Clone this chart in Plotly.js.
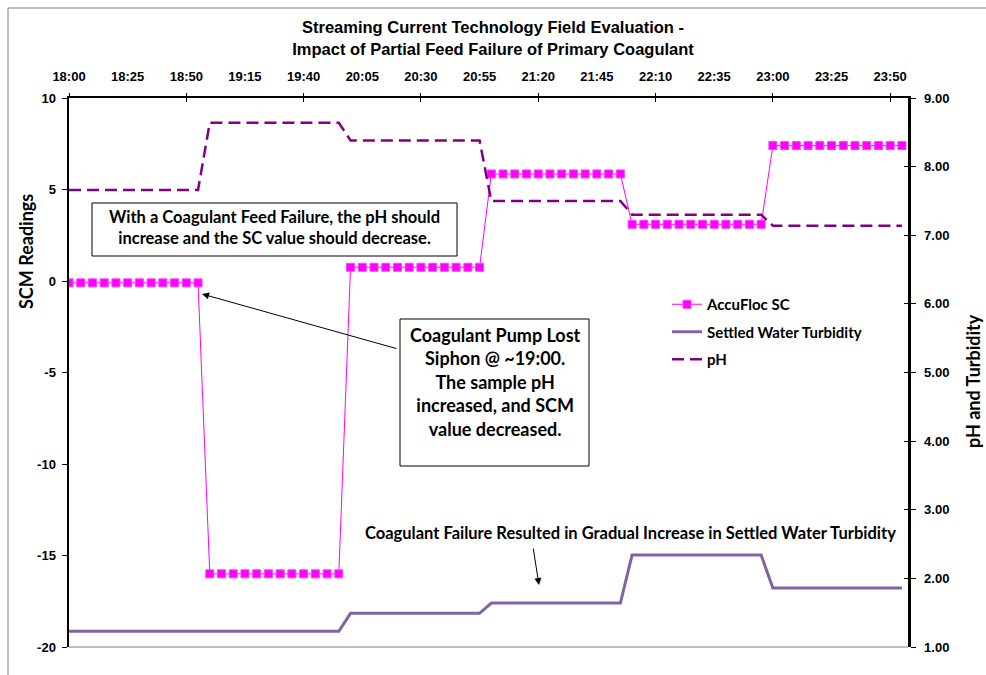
<!DOCTYPE html>
<html>
<head>
<meta charset="utf-8">
<script src="https://cdn.plot.ly/plotly-3.0.1.min.js"></script>
<style>
html,body{margin:0;padding:0;background:#fff;}
#chart{width:986px;height:675px;}
</style>
</head>
<body>
<div id="chart"></div>
<script>
// ---- DATA ----
const times = [
 "18:00","18:05","18:10","18:15","18:20","18:25","18:30","18:35","18:40","18:45","18:50","18:55",
 "19:00","19:05","19:10","19:15","19:20","19:25","19:30","19:35","19:40","19:45","19:50","19:55",
 "20:00","20:05","20:10","20:15","20:20","20:25","20:30","20:35","20:40","20:45","20:50","20:55",
 "21:00","21:05","21:10","21:15","21:20","21:25","21:30","21:35","21:40","21:45","21:50","21:55",
 "22:00","22:05","22:10","22:15","22:20","22:25","22:30","22:35","22:40","22:45","22:50","22:55",
 "23:00","23:05","23:10","23:15","23:20","23:25","23:30","23:35","23:40","23:45","23:50","23:55"
];
const accuflocSC = [
 -0.1,-0.1,-0.1,-0.1,-0.1,-0.1,-0.1,-0.1,-0.1,-0.1,-0.1,-0.1,
 -16.0,-16.0,-16.0,-16.0,-16.0,-16.0,-16.0,-16.0,-16.0,-16.0,-16.0,-16.0,
 0.75,0.75,0.75,0.75,0.75,0.75,0.75,0.75,0.75,0.75,0.75,0.75,
 5.85,5.85,5.85,5.85,5.85,5.85,5.85,5.85,5.85,5.85,5.85,5.85,
 3.1,3.1,3.1,3.1,3.1,3.1,3.1,3.1,3.1,3.1,3.1,3.1,
 7.4,7.4,7.4,7.4,7.4,7.4,7.4,7.4,7.4,7.4,7.4,7.4
];
const turbidity = [
 1.23,1.23,1.23,1.23,1.23,1.23,1.23,1.23,1.23,1.23,1.23,1.23,
 1.23,1.23,1.23,1.23,1.23,1.23,1.23,1.23,1.23,1.23,1.23,1.23,
 1.49,1.49,1.49,1.49,1.49,1.49,1.49,1.49,1.49,1.49,1.49,1.49,
 1.64,1.64,1.64,1.64,1.64,1.64,1.64,1.64,1.64,1.64,1.64,1.64,
 2.34,2.34,2.34,2.34,2.34,2.34,2.34,2.34,2.34,2.34,2.34,2.34,
 1.86,1.86,1.86,1.86,1.86,1.86,1.86,1.86,1.86,1.86,1.86,1.86
];
const pH = [
 7.66,7.66,7.66,7.66,7.66,7.66,7.66,7.66,7.66,7.66,7.66,7.66,
 8.64,8.64,8.64,8.64,8.64,8.64,8.64,8.64,8.64,8.64,8.64,8.64,
 8.38,8.38,8.38,8.38,8.38,8.38,8.38,8.38,8.38,8.38,8.38,8.38,
 7.50,7.50,7.50,7.50,7.50,7.50,7.50,7.50,7.50,7.50,7.50,7.50,
 7.30,7.30,7.30,7.30,7.30,7.30,7.30,7.30,7.30,7.30,7.30,7.30,
 7.14,7.14,7.14,7.14,7.14,7.14,7.14,7.14,7.14,7.14,7.14,7.14
];
const seriesNames = ["AccuFloc SC","Settled Water Turbidity","pH"];
const leftTickVals = [-20, -15, -10, -5, 0, 5, 10];
const leftTickText = ["-20", "-15", "-10", "-5", "0", "5", "10"];
const xTickStart = "18:00";
const xRangeEnd = "23:57:36";

// ---- BUILD ----
const day = "2000-01-01 ";
const xs = times.map(t => day + t);

// pixel -> paper helpers (layout placement only)
const L = 69, R = 908, T = 98, B = 647;
const PX = p => (p - L) / (R - L);
const PY = p => (B - p) / (B - T);

const calibri = "Lato, 'Open Sans', sans-serif";
const arial = "'Liberation Sans', Arial, sans-serif";

const traces = [
  {x: xs, y: accuflocSC, name: seriesNames[0], type: "scatter", mode: "lines+markers",
   line: {color: "#FF00FF", width: 1}, marker: {symbol: "square", size: 8, color: "#FF00FF", line: {color: "#FF40FF", width: 1}},
   yaxis: "y", legendgroup: "a"},
  {x: xs, y: turbidity, name: seriesNames[1], type: "scatter", mode: "lines",
   line: {color: "#8064A2", width: 3}, yaxis: "y2", legendgroup: "b"},
  {x: xs, y: pH, name: seriesNames[2], type: "scatter", mode: "lines",
   line: {color: "#800080", width: 2.5, dash: "12px,6px"}, yaxis: "y2", legendgroup: "c"},
  // invisible helpers so the tick-only overlay axes are drawn
  {x: [xs[0]], y: [null], xaxis: "x2", yaxis: "y", mode: "markers", showlegend: false, hoverinfo: "skip"},
  {x: [xs[0]], y: [null], xaxis: "x3", yaxis: "y", mode: "markers", showlegend: false, hoverinfo: "skip"},
  {x: [xs[0]], y: [null], xaxis: "x", yaxis: "y3", mode: "markers", showlegend: false, hoverinfo: "skip"}
];

const xr = [day + xTickStart, day + xRangeEnd];
const tickFont = {family: arial, size: 13, color: "#000", weight: "bold"};

const layout = {
  width: 986, height: 675,
  margin: {l: L, r: 986 - R, t: T, b: 675 - B, pad: 0},
  paper_bgcolor: "#fff", plot_bgcolor: "#fff",
  showlegend: true,
  title: {text: "Streaming Current Technology Field Evaluation -<br>Impact of Partial Feed Failure of Primary Coagulant",
          font: {family: arial, size: 16.5, color: "#000", weight: "bold"},
          x: 0.5, xref: "container", xanchor: "center", y: 0.951, yref: "container", yanchor: "top"},
  xaxis: {type: "date", side: "top", anchor: "y", range: xr, tick0: day + xTickStart, dtick: 25 * 60 * 1000,
          tickformat: "%H:%M", ticks: "", showline: true, linecolor: "#000", linewidth: 2.5,
          showgrid: false, zeroline: false, tickfont: tickFont, ticklabelstandoff: 9},
  xaxis2: {type: "date", side: "top", anchor: "y", overlaying: "x", range: xr, tick0: day + xTickStart, dtick: 50 * 60 * 1000,
           ticks: "outside", ticklen: 4, tickwidth: 1, tickcolor: "#000", showticklabels: false,
           showline: false, showgrid: false, zeroline: false},
  xaxis3: {type: "date", side: "top", anchor: "y", overlaying: "x", range: xr, tick0: day + xTickStart, dtick: 50 * 60 * 1000,
           ticks: "inside", ticklen: 4, tickwidth: 1, tickcolor: "#000", showticklabels: false,
           showline: false, showgrid: false, zeroline: false},
  yaxis: {range: [-20, 10], tickmode: "array", tickvals: leftTickVals, ticktext: leftTickText,
          ticks: "outside", ticklen: 5, tickwidth: 1, tickcolor: "#000",
          showline: true, linecolor: "#000", linewidth: 2.5, showgrid: false, zeroline: false,
          tickfont: tickFont, ticklabelstandoff: 3},
  yaxis2: {overlaying: "y", side: "right", anchor: "x", range: [1, 9], dtick: 1, tickformat: ".2f",
           ticks: "outside", ticklen: 5, tickwidth: 1, tickcolor: "#000",
           showline: true, linecolor: "#000", linewidth: 2.5, showgrid: false, zeroline: false,
           tickfont: tickFont, ticklabelstandoff: 6},
  yaxis3: {overlaying: "y", side: "right", anchor: "x", range: [1, 9], dtick: 1,
           ticks: "inside", ticklen: 4, tickwidth: 1, tickcolor: "#000", showticklabels: false,
           showline: false, showgrid: false, zeroline: false},
  legend: {x: PX(667), y: PY(288), xanchor: "left", yanchor: "top", bgcolor: "rgba(0,0,0,0)",
           font: {family: calibri, size: 15, color: "#000", weight: "bold"}, tracegroupgap: 5, traceorder: "grouped"},
  shapes: [
    // chart border
    {type: "line", xref: "paper", yref: "paper", x0: PX(8), x1: PX(8), y0: PY(8), y1: PY(680), line: {color: "#7f7f7f", width: 1}},
    {type: "line", xref: "paper", yref: "paper", x0: PX(8), x1: PX(990), y0: PY(8), y1: PY(8), line: {color: "#7f7f7f", width: 1}},
    // bottom plot line
    {type: "line", xref: "paper", yref: "paper", x0: 0, x1: 1, y0: 0, y1: 0, line: {color: "#7f7f7f", width: 1}},
    // text boxes
    {type: "rect", xref: "paper", yref: "paper", x0: PX(92), x1: PX(457), y0: PY(203), y1: PY(256), line: {color: "#000", width: 1}, fillcolor: "#fff", layer: "above"},
    {type: "rect", xref: "paper", yref: "paper", x0: PX(400), x1: PX(589), y0: PY(319), y1: PY(466), line: {color: "#000", width: 1}, fillcolor: "#fff", layer: "above"}
  ],
  annotations: [
    {xref: "paper", yref: "paper", x: PX(26), y: PY(252), text: "SCM Readings", showarrow: false, textangle: -90,
     font: {family: calibri, size: 18, color: "#000", weight: "bold"}, xanchor: "center", yanchor: "middle"},
    {xref: "paper", yref: "paper", x: PX(973), y: PY(381), text: "pH and Turbidity", showarrow: false, textangle: -90,
     font: {family: calibri, size: 18, color: "#000", weight: "bold"}, xanchor: "center", yanchor: "middle"},
    {xref: "paper", yref: "paper", x: PX(274.5), y: PY(228), text: "With a Coagulant Feed Failure, the pH should<br>increase and the SC value should decrease.",
     showarrow: false, font: {family: calibri, size: 16.5, color: "#000", weight: "bold"}, xanchor: "center", yanchor: "middle", align: "center"},
    {xref: "paper", yref: "paper", x: PX(495), y: PY(382), text: "Coagulant Pump Lost<br>Siphon @ ~19:00.<br>The sample pH<br>increased, and SCM<br>value decreased.",
     showarrow: false, font: {family: calibri, size: 18, color: "#000", weight: "bold"}, xanchor: "center", yanchor: "middle", align: "center"},
    {xref: "paper", yref: "paper", x: PX(630), y: PY(533), text: "Coagulant Failure Resulted in Gradual Increase in Settled Water Turbidity",
     showarrow: false, font: {family: calibri, size: 16.5, color: "#000", weight: "bold"}, xanchor: "center", yanchor: "middle"},
    // arrows
    {xref: "paper", yref: "paper", x: PX(202), y: PY(294), ax: 398 - 202, ay: 349 - 294, text: "", showarrow: true,
     arrowhead: 2, arrowsize: 1.4, arrowwidth: 1, arrowcolor: "#000", standoff: 0, startstandoff: 0},
    {xref: "paper", yref: "paper", x: PX(539), y: PY(585), ax: 533 - 539, ay: 547 - 585, text: "", showarrow: true,
     arrowhead: 2, arrowsize: 1.4, arrowwidth: 1, arrowcolor: "#000", standoff: 0, startstandoff: 0}
  ]
};

Plotly.newPlot("chart", traces, layout, {displayModeBar: false, staticPlot: true});
</script>
</body>
</html>
